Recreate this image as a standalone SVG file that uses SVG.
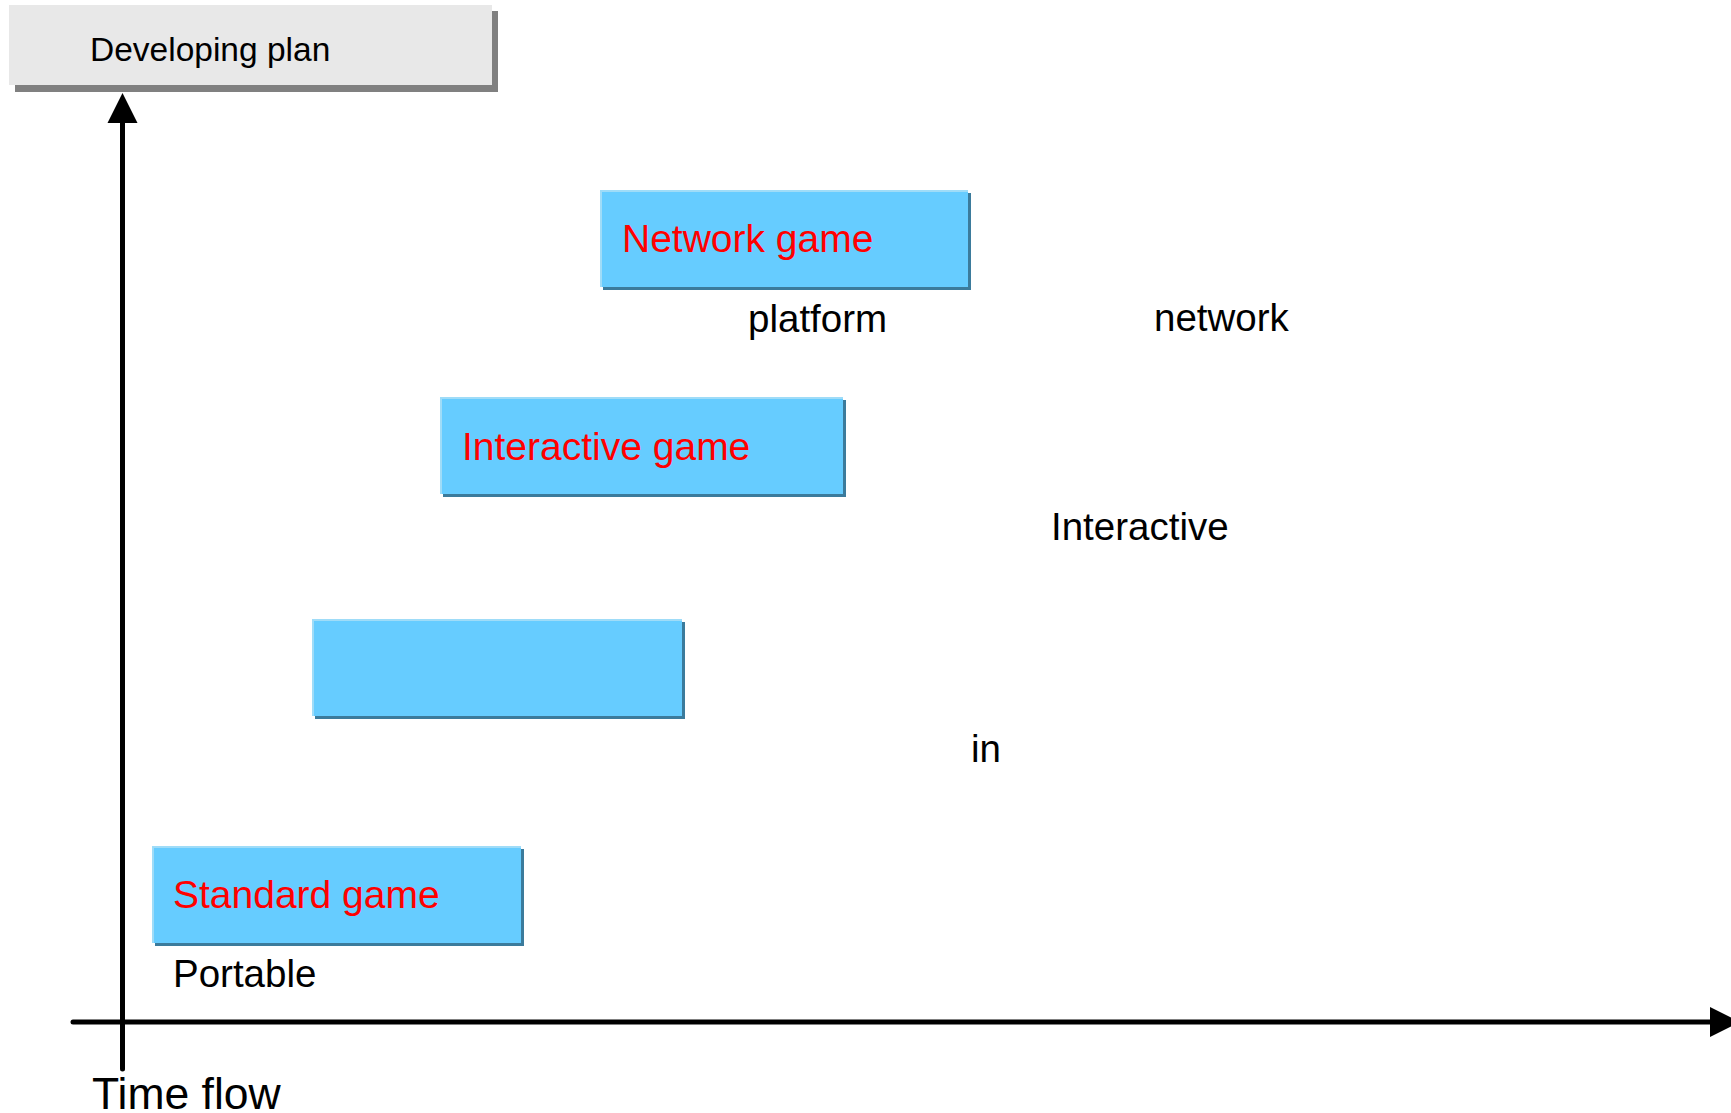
<svg xmlns="http://www.w3.org/2000/svg" width="1731" height="1113" viewBox="0 0 1731 1113">
  <style>
    .lbl { font-family: "Liberation Sans", Arial, sans-serif; fill: #000000; font-size: 38.5px; }
    .red { font-family: "Liberation Sans", Arial, sans-serif; fill: #ff0000; font-size: 39px; }
    .shadow { fill: #3b7b9c; }
    .edge { fill: #9fdcf8; }
    .face { fill: #66ccff; }
    .axis { stroke: #000000; stroke-width: 5; stroke-linecap: round; fill: none; }
  </style>
  <defs>
    <marker id="arrow" markerUnits="userSpaceOnUse" markerWidth="30" markerHeight="30" refX="0" refY="15" orient="auto" overflow="visible">
      <path d="M0,0 L30,15 L0,30 Z" fill="#000000"/>
    </marker>
  </defs>
  <rect width="1731" height="1113" fill="#ffffff"/>

  <g id="header">
    <rect x="15" y="11" width="483" height="81" fill="#808080"/>
    <rect x="9" y="5" width="483" height="80" fill="#e8e8e8"/>
    <text x="90" y="61" font-family="Liberation Sans, Arial, sans-serif" font-size="33.5" fill="#000000">Developing plan</text>
  </g>

  <g id="connectors">
    <line class="axis" x1="122.5" y1="1069" x2="122.5" y2="123" marker-end="url(#arrow)"/>
    <line class="axis" x1="73" y1="1022" x2="1710" y2="1022" marker-end="url(#arrow)"/>
  </g>

  <g id="network-game">
    <rect class="shadow" x="603" y="193" width="368" height="97"/>
    <rect class="edge" x="600" y="190" width="368" height="97"/>
    <rect class="face" x="602" y="192" width="366" height="95"/>
    <text class="red" x="622" y="252">Network game</text>
  </g>

  <g id="interactive-game">
    <rect class="shadow" x="443" y="400" width="403" height="97"/>
    <rect class="edge" x="440" y="397" width="403" height="97"/>
    <rect class="face" x="442" y="399" width="401" height="95"/>
    <text class="red" x="462" y="460">Interactive game</text>
  </g>

  <g id="blank-box">
    <rect class="shadow" x="315" y="622" width="370" height="97"/>
    <rect class="edge" x="312" y="619" width="370" height="97"/>
    <rect class="face" x="314" y="621" width="368" height="95"/>
  </g>

  <g id="standard-game">
    <rect class="shadow" x="155" y="849" width="369" height="97"/>
    <rect class="edge" x="152" y="846" width="369" height="97"/>
    <rect class="face" x="154" y="848" width="367" height="95"/>
    <text class="red" x="173" y="908">Standard game</text>
  </g>

  <g id="labels">
    <text class="lbl" x="173" y="987">Portable</text>
    <text class="lbl" x="748" y="332">platform</text>
    <text class="lbl" x="1154" y="331">network</text>
    <text class="lbl" x="1051" y="540">Interactive</text>
    <text class="lbl" x="971" y="762">in</text>
    <text x="92" y="1109" font-family="Liberation Sans, Arial, sans-serif" font-size="44.5" fill="#000000">Time flow</text>
  </g>
</svg>
